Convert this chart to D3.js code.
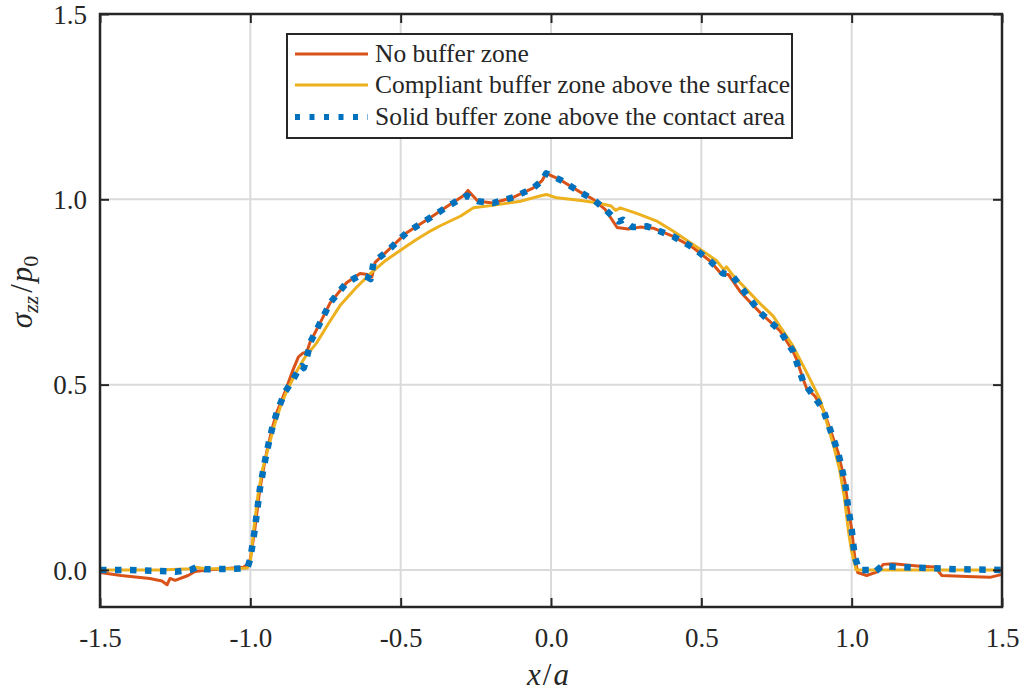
<!DOCTYPE html>
<html>
<head>
<meta charset="utf-8">
<script src="https://cdn.jsdelivr.net/npm/d3@7"></script>
<style>
  html, body { margin: 0; padding: 0; background: #fff; }
  svg { display: block; }
  text { font-family: "Liberation Serif", "DejaVu Serif", serif; fill: #262626; }
</style>
</head>
<body>
<svg id="chart" width="1022" height="697"></svg>
<script>
// ---- data ----
const seriesNames = ["No buffer zone", "Compliant buffer zone above the surface", "Solid buffer zone above the contact area"];
const seriesColors = ["#D95319", "#EDB120", "#0072BD"];

const xNoBuffer = [-1.5, -1.43, -1.334, -1.294, -1.277, -1.267, -1.25, -1.207, -1.184, -1.144, -1.024, -1.008, -1.0, -0.985, -0.968, -0.957, -0.945, -0.928, -0.912, -0.885, -0.858, -0.84, -0.825, -0.812, -0.802, -0.762, -0.735, -0.68, -0.635, -0.61, -0.596, -0.585, -0.545, -0.48, -0.402, -0.336, -0.29, -0.276, -0.243, -0.193, -0.126, -0.06, -0.03, -0.016, 0.03, 0.096, 0.14, 0.18, 0.22, 0.256, 0.296, 0.34, 0.406, 0.472, 0.53, 0.568, 0.59, 0.63, 0.695, 0.762, 0.805, 0.817, 0.839, 0.85, 0.878, 0.905, 0.928, 0.955, 0.978, 0.988, 1.0, 1.01, 1.02, 1.05, 1.085, 1.105, 1.138, 1.227, 1.277, 1.3, 1.384, 1.46, 1.5];
const yNoBuffer = [-0.007, -0.015, -0.023, -0.03, -0.04, -0.023, -0.028, -0.015, -0.004, 0.0, 0.007, 0.015, 0.03, 0.11, 0.22, 0.27, 0.32, 0.38, 0.425, 0.48, 0.54, 0.575, 0.585, 0.588, 0.613, 0.676, 0.72, 0.775, 0.8, 0.797, 0.79, 0.83, 0.86, 0.91, 0.95, 0.986, 1.01, 1.024, 0.995, 0.99, 1.005, 1.03, 1.05, 1.07, 1.053, 1.02, 1.0, 0.973, 0.924, 0.92, 0.925, 0.922, 0.9, 0.87, 0.833, 0.797, 0.797, 0.75, 0.695, 0.645, 0.59, 0.568, 0.514, 0.49, 0.469, 0.433, 0.38, 0.317, 0.236, 0.17, 0.11, 0.036, -0.007, -0.015, -0.005, 0.015, 0.017, 0.01, 0.008, -0.015, -0.018, -0.02, -0.012];

const xCompliant = [-1.5, -1.3, -1.2, -1.18, -1.15, -1.05, -1.01, -1.0, -0.99, -0.975, -0.96, -0.94, -0.92, -0.9, -0.88, -0.85, -0.82, -0.78, -0.74, -0.7, -0.65, -0.6, -0.55, -0.48, -0.45, -0.4, -0.37, -0.3, -0.28, -0.258, -0.2, -0.1, -0.037, -0.015, 0.019, 0.1, 0.157, 0.2, 0.215, 0.23, 0.285, 0.35, 0.407, 0.45, 0.496, 0.55, 0.575, 0.584, 0.6, 0.65, 0.7, 0.739, 0.805, 0.85, 0.895, 0.92, 0.94, 0.96, 0.975, 0.99, 1.0, 1.015, 1.05, 1.2, 1.35, 1.5];
const yCompliant = [0.0, 0.0, 0.003, 0.007, 0.003, 0.003, 0.005, 0.02, 0.1, 0.2, 0.27, 0.33, 0.39, 0.44, 0.48, 0.53, 0.572, 0.612, 0.665, 0.715, 0.76, 0.8, 0.835, 0.874, 0.89, 0.915, 0.928, 0.955, 0.966, 0.977, 0.983, 0.995, 1.009, 1.013, 1.004, 0.997, 0.99, 0.982, 0.97, 0.977, 0.962, 0.942, 0.914, 0.89, 0.865, 0.835, 0.81, 0.818, 0.8, 0.757, 0.715, 0.685, 0.604, 0.533, 0.46, 0.39, 0.335, 0.27, 0.2, 0.1, 0.05, 0.0, 0.0, 0.0, 0.0, 0.0];

const xSolid = [-1.5, -1.4, -1.3, -1.25, -1.2, -1.18, -1.15, -1.05, -1.01, -1.0, -0.985, -0.968, -0.957, -0.945, -0.928, -0.912, -0.885, -0.86, -0.84, -0.828, -0.822, -0.81, -0.8, -0.762, -0.735, -0.68, -0.635, -0.61, -0.6, -0.59, -0.545, -0.48, -0.402, -0.336, -0.28, -0.243, -0.193, -0.126, -0.06, -0.03, -0.016, 0.03, 0.096, 0.14, 0.18, 0.207, 0.225, 0.24, 0.27, 0.32, 0.406, 0.472, 0.53, 0.572, 0.6, 0.63, 0.695, 0.762, 0.805, 0.84, 0.878, 0.905, 0.928, 0.955, 0.978, 0.988, 1.0, 1.01, 1.025, 1.06, 1.075, 1.1, 1.15, 1.25, 1.35, 1.5];
const ySolid = [0.0, 0.0, -0.003, -0.005, 0.0, 0.007, 0.002, 0.003, 0.005, 0.03, 0.11, 0.22, 0.27, 0.32, 0.38, 0.425, 0.48, 0.51, 0.54, 0.55, 0.545, 0.58, 0.615, 0.676, 0.72, 0.775, 0.795, 0.79, 0.785, 0.83, 0.86, 0.91, 0.95, 0.985, 1.01, 0.995, 0.99, 1.005, 1.03, 1.05, 1.07, 1.053, 1.02, 1.0, 0.973, 0.952, 0.94, 0.945, 0.925, 0.927, 0.9, 0.87, 0.833, 0.8, 0.797, 0.765, 0.695, 0.645, 0.59, 0.505, 0.465, 0.433, 0.38, 0.317, 0.236, 0.17, 0.11, 0.036, 0.0, 0.0, -0.007, 0.01, 0.008, 0.005, 0.002, 0.0];

const xTicks = [-1.5, -1.0, -0.5, 0.0, 0.5, 1.0, 1.5];
const xTickLabels = ["-1.5", "-1.0", "-0.5", "0.0", "0.5", "1.0", "1.5"];
const yTicks = [0.0, 0.5, 1.0, 1.5];
const yTickLabels = ["0.0", "0.5", "1.0", "1.5"];
const xDomain = [-1.5, 1.5];
const yDomain = [-0.1, 1.5];

// ---- layout ----
const padL = 100, padR = 1002, padT = 14, padB = 607;
const svg = d3.select("#chart");
svg.append("rect").attr("width", 1022).attr("height", 697).attr("fill", "#fff");

const x = d3.scaleLinear().domain(xDomain).range([padL, padR]);
const y = d3.scaleLinear().domain(yDomain).range([padB, padT]);

// grid
const grid = svg.append("g").attr("stroke", "#dadada").attr("stroke-width", 2);
grid.selectAll("line.gx").data(xTicks).join("line").attr("class", "gx")
  .attr("x1", d => x(d)).attr("x2", d => x(d)).attr("y1", padT).attr("y2", padB);
grid.selectAll("line.gy").data(yTicks).join("line").attr("class", "gy")
  .attr("y1", d => y(d)).attr("y2", d => y(d)).attr("x1", padL).attr("x2", padR);

// lines
const series = [
  { xs: xNoBuffer, ys: yNoBuffer, color: seriesColors[0], width: 3, dash: null },
  { xs: xCompliant, ys: yCompliant, color: seriesColors[1], width: 3, dash: null },
  { xs: xSolid, ys: ySolid, color: seriesColors[2], width: 6.5, dash: "6.5 8.5" }
];
const line = d3.line().x(d => x(d[0])).y(d => y(d[1]));
const plot = svg.append("g");
series.forEach(s => {
  const pts = s.xs.map((v, i) => [v, s.ys[i]]);
  plot.append("path").datum(pts)
    .attr("d", line)
    .attr("fill", "none")
    .attr("stroke", s.color)
    .attr("stroke-width", s.width)
    .attr("stroke-linejoin", "round")
    .attr("stroke-dasharray", s.dash);
});

// axes (ticks inward, box)
const tickLen = 9;
const axisColor = "#262626";
const xb = d3.axisBottom(x).tickValues(xTicks).tickFormat((d, i) => xTickLabels[i]).tickSizeInner(-tickLen).tickSizeOuter(0).tickPadding(21);
const xt = d3.axisTop(x).tickValues(xTicks).tickFormat("").tickSizeInner(-tickLen).tickSizeOuter(0);
const yl = d3.axisLeft(y).tickValues(yTicks).tickFormat((d, i) => yTickLabels[i]).tickSizeInner(-tickLen).tickSizeOuter(0).tickPadding(13);
const yr = d3.axisRight(y).tickValues(yTicks).tickFormat("").tickSizeInner(-tickLen).tickSizeOuter(0);

function styleAxis(g) {
  g.select(".domain").remove();
  g.selectAll(".tick line").attr("stroke", axisColor).attr("stroke-width", 2);
  g.selectAll(".tick text").attr("fill", axisColor)
    .style("font-family", '"Liberation Serif", serif').style("font-size", "27px");
}
svg.append("g").attr("transform", `translate(0,${padB})`).call(xb).call(styleAxis)
  .selectAll(".tick text").attr("dy", "0.72em");
svg.append("g").attr("transform", `translate(0,${padT})`).call(xt).call(styleAxis);
svg.append("g").attr("transform", `translate(${padL},0)`).call(yl).call(styleAxis)
  .selectAll(".tick text").attr("dy", "0.34em");
svg.append("g").attr("transform", `translate(${padR},0)`).call(yr).call(styleAxis);

svg.append("rect").attr("x", padL).attr("y", padT).attr("width", padR - padL).attr("height", padB - padT)
  .attr("fill", "none").attr("stroke", axisColor).attr("stroke-width", 2.5);

// axis labels
const xl = svg.append("text").attr("x", 548).attr("y", 685).attr("text-anchor", "middle")
  .style("font-size", "31px").style("font-style", "italic");
xl.append("tspan").text("x");
xl.append("tspan").attr("dx", 2).style("font-style", "normal").text("/");
xl.append("tspan").attr("dx", 2).text("a");

const ylab = svg.append("text").attr("transform", "translate(32,292) rotate(-90)").attr("text-anchor", "middle")
  .style("font-size", "31px");
ylab.append("tspan").style("font-style", "italic").text("σ");
ylab.append("tspan").style("font-style", "italic").style("font-size", "22px").attr("dy", 6).text("zz");
ylab.append("tspan").attr("dy", -6).attr("dx", 3).text("/");
ylab.append("tspan").attr("dx", 2).style("font-style", "italic").text("p");
ylab.append("tspan").style("font-size", "22px").attr("dy", 6).text("0");

// legend
const lg = svg.append("g");
lg.append("rect").attr("x", 287).attr("y", 34).attr("width", 505).attr("height", 104)
  .attr("fill", "#fff").attr("stroke", axisColor).attr("stroke-width", 2);
const rowY = [54, 85, 117];
series.forEach((s, i) => {
  lg.append("line").attr("x1", 295).attr("x2", 368).attr("y1", rowY[i]).attr("y2", rowY[i])
    .attr("stroke", s.color).attr("stroke-width", i === 2 ? 6 : 3)
    .attr("stroke-dasharray", i === 2 ? "5 9.5" : null);
  lg.append("text").attr("x", 375).attr("y", rowY[i]).attr("dy", "0.33em")
    .style("font-size", "25.5px").text(seriesNames[i]);
});
</script>
</body>
</html>
